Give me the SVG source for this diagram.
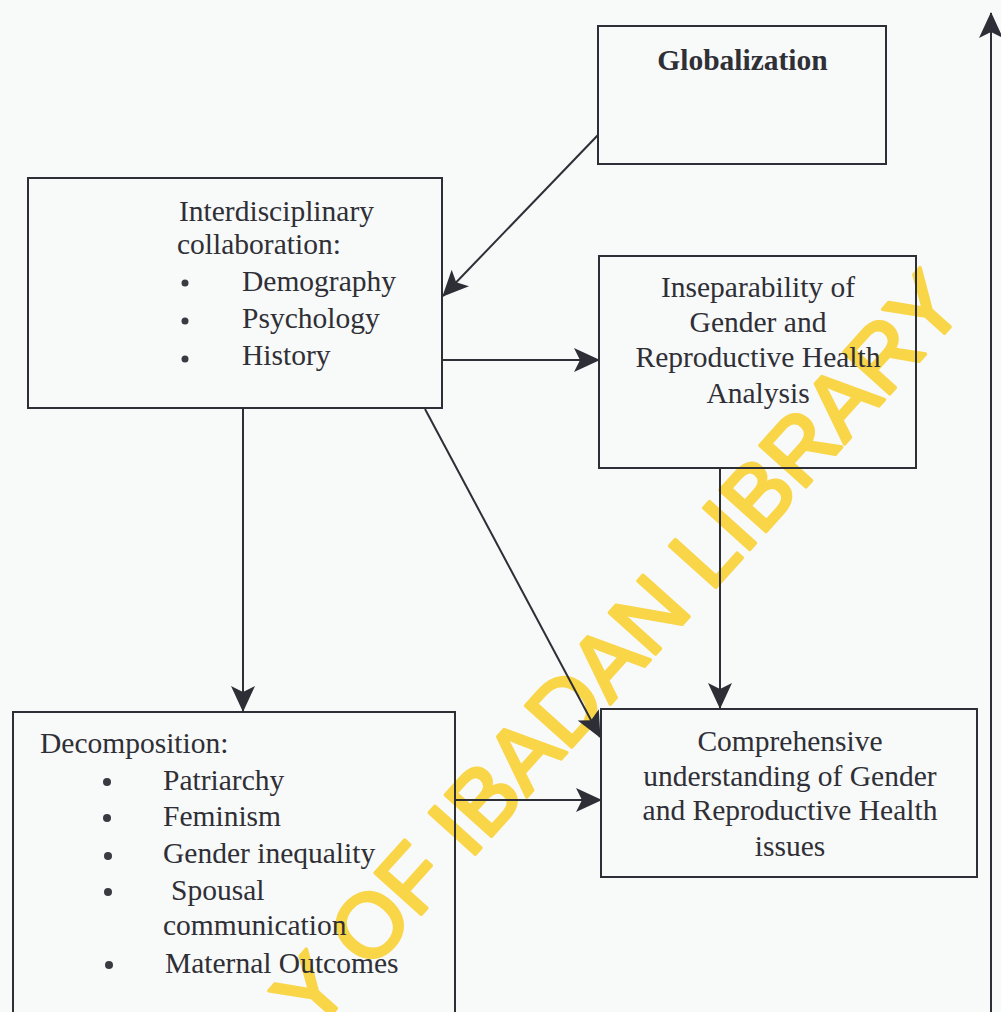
<svg xmlns="http://www.w3.org/2000/svg" width="1001" height="1012" viewBox="0 0 1001 1012">
  <style>
    .box { fill: none; stroke: #2e2e36; stroke-width: 2; }
    .edge { fill: none; stroke: #2e2e36; stroke-width: 2; }
    .t { font-family: "Liberation Serif", "Times New Roman", serif; font-size: 29.5px; fill: #2f2f36; }
    .c { text-anchor: middle; }
    .b { font-weight: bold; }
    .dot { fill: #3a3a42; }
    .wm { font-family: "Liberation Sans", Arial, sans-serif; font-size: 90px; fill: #f9d548; stroke: #f9d548; stroke-width: 3.5; stroke-linejoin: round; }
  </style>
  <defs>
    <marker id="ah" markerUnits="userSpaceOnUse" markerWidth="27" markerHeight="25" refX="25" refY="12" orient="auto">
      <path d="M0,0 L26,12 L0,24 L6,12 z" fill="#2e2e36"/>
    </marker>
  </defs>
  <rect x="0" y="0" width="1001" height="1012" fill="#f8f9f9"/>

  <g id="watermark">
    <text class="wm" transform="translate(313.6,1033.7) rotate(-48)">Y OF IBADAN LIBRARY</text>
  </g>

  <g id="connectors">
    <line class="edge" x1="598" y1="135" x2="443" y2="296" marker-end="url(#ah)"/>
    <line class="edge" x1="443" y1="360" x2="599" y2="360" marker-end="url(#ah)"/>
    <line class="edge" x1="243" y1="409" x2="243" y2="711" marker-end="url(#ah)"/>
    <line class="edge" x1="425" y1="409" x2="600" y2="737" marker-end="url(#ah)"/>
    <line class="edge" x1="720" y1="469" x2="720" y2="708" marker-end="url(#ah)"/>
    <line class="edge" x1="456" y1="800" x2="601" y2="800" marker-end="url(#ah)"/>
    <line class="edge" x1="991" y1="1012" x2="991" y2="13" marker-end="url(#ah)"/>
  </g>

  <g id="globalization">
    <rect class="box" x="598" y="26" width="288" height="138"/>
    <text class="t c b" x="742.5" y="70">Globalization</text>
  </g>

  <g id="interdisciplinary">
    <rect class="box" x="28" y="178" width="414" height="230"/>
    <text class="t" x="179" y="221">Interdisciplinary</text>
    <text class="t" x="177" y="254">collaboration:</text>
    <circle class="dot" cx="185" cy="283" r="3.5"/>
    <circle class="dot" cx="185" cy="321" r="3.5"/>
    <circle class="dot" cx="185" cy="359" r="3.5"/>
    <text class="t" x="242" y="291">Demography</text>
    <text class="t" x="242" y="328">Psychology</text>
    <text class="t" x="242" y="365">History</text>
  </g>

  <g id="inseparability">
    <rect class="box" x="599" y="256" width="317" height="212"/>
    <text class="t c" x="758" y="297">Inseparability of</text>
    <text class="t c" x="758" y="332">Gender and</text>
    <text class="t c" x="758" y="367">Reproductive Health</text>
    <text class="t c" x="758" y="403">Analysis</text>
  </g>

  <g id="comprehensive">
    <rect class="box" x="601" y="709" width="376" height="168"/>
    <text class="t c" x="790" y="751">Comprehensive</text>
    <text class="t c" x="790" y="786">understanding of Gender</text>
    <text class="t c" x="790" y="820">and Reproductive Health</text>
    <text class="t c" x="790" y="856">issues</text>
  </g>

  <g id="decomposition">
    <rect class="box" x="13" y="712" width="442" height="320"/>
    <text class="t" x="40" y="753">Decomposition:</text>
    <circle class="dot" cx="107" cy="782" r="4"/>
    <circle class="dot" cx="107" cy="818" r="4"/>
    <circle class="dot" cx="108" cy="856" r="4"/>
    <circle class="dot" cx="108" cy="892" r="4"/>
    <circle class="dot" cx="109" cy="965" r="4"/>
    <text class="t" x="163" y="790">Patriarchy</text>
    <text class="t" x="163" y="826">Feminism</text>
    <text class="t" x="163" y="863">Gender inequality</text>
    <text class="t" x="171" y="900">Spousal</text>
    <text class="t" x="163" y="935">communication</text>
    <text class="t" x="165" y="973">Maternal Outcomes</text>
  </g>
</svg>
